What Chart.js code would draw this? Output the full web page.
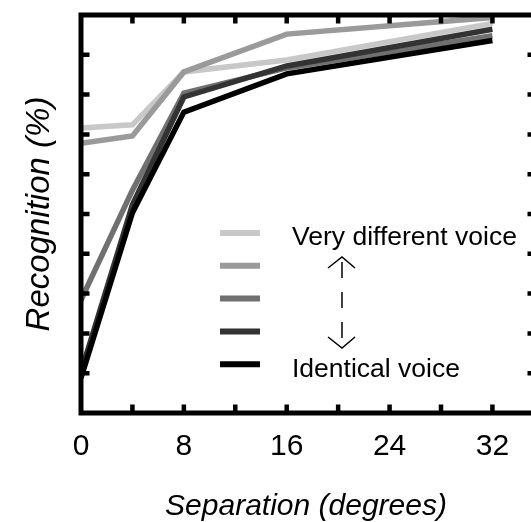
<!DOCTYPE html>
<html>
<head>
<meta charset="utf-8">
<script src="https://cdn.jsdelivr.net/npm/chart.js@4.4.1/dist/chart.umd.min.js"></script>
<style>
  html, body { margin: 0; padding: 0; background: #fff; }
  #wrap { width: 531px; height: 522px; }
</style>
</head>
<body>
<div id="wrap"><canvas id="chart" width="531" height="522"></canvas></div>
<script>
// separation (degrees)
var separation = [0, 4, 8, 16, 32];
// recognition (%) for each voice condition, very different -> identical
var voiceVeryDifferent = [71.6, 72.4, 85.7, 88.7, 97.9];
var voiceStep2 = [67.8, 69.6, 85.7, 95.2, 99.4];
var voiceStep3 = [28.4, 56.0, 80.4, 86.7, 94.8];
var voiceStep4 = [10.3, 52.3, 79.4, 87.2, 96.4];
var voiceIdentical = [8.8, 50.3, 75.6, 85.2, 93.6];
var xTickLabels = [0, 8, 16, 24, 32];
var legendTop = 'Very different voice';
var legendBottom = 'Identical voice';

var series = [voiceVeryDifferent, voiceStep2, voiceStep3, voiceStep4, voiceIdentical];
var colors = ['#c8c8c8', '#9a9a9a', '#707070', '#333333', '#000000'];

var datasets = series.map(function (vals, i) {
  return {
    data: vals.map(function (v, j) { return { x: separation[j], y: v }; }),
    borderColor: colors[i],
    borderWidth: 5.5,
    pointRadius: 0,
    tension: 0,
    fill: false,
    order: series.length - 1 - i
  };
});

var sans = '"Liberation Sans", Arial, sans-serif';

// box, inward tick marks and the legend
var framePlugin = {
  id: 'frame',
  afterDatasetsDraw: function (chart) {
    var ctx = chart.ctx, a = chart.chartArea;
    var xs = chart.scales.x, ys = chart.scales.y;
    var L = a.left, T = a.top, B = a.bottom, R = a.right + 5;
    ctx.save();
    ctx.strokeStyle = '#000';
    ctx.lineWidth = 5;
    ctx.strokeRect(L, T, R - L, B - T);

    ctx.lineWidth = 4.5;
    ctx.beginPath();
    xs.ticks.forEach(function (t) {
      if (t.value <= xs.min || t.value >= xs.max) return;
      var px = xs.getPixelForValue(t.value);
      ctx.moveTo(px, T); ctx.lineTo(px, T + 8.5);
      ctx.moveTo(px, B); ctx.lineTo(px, B - 8.5);
    });
    ys.ticks.forEach(function (t) {
      if (t.value <= ys.min || t.value >= ys.max) return;
      var py = ys.getPixelForValue(t.value);
      ctx.moveTo(L, py); ctx.lineTo(L + 8.5, py);
      ctx.moveTo(R, py); ctx.lineTo(R - 8.5, py);
    });
    ctx.stroke();

    // legend swatches
    var lx = L + 139, ly = 233, step = 32.8;
    ctx.lineWidth = 6;
    colors.forEach(function (c, i) {
      ctx.strokeStyle = c;
      ctx.beginPath();
      ctx.moveTo(lx, ly + i * step);
      ctx.lineTo(lx + 40, ly + i * step);
      ctx.stroke();
    });

    ctx.fillStyle = '#000';
    ctx.font = '26.5px ' + sans;
    ctx.textBaseline = 'alphabetic';
    ctx.textAlign = 'left';
    ctx.fillText(legendTop, L + 211, 245);
    ctx.fillText(legendBottom, L + 211, 377);

    // dashed double arrow
    var ax = L + 261;
    ctx.strokeStyle = '#000';
    ctx.lineWidth = 1.5;
    ctx.setLineDash([16, 14]);
    ctx.beginPath();
    ctx.moveTo(ax, 262); ctx.lineTo(ax, 342);
    ctx.stroke();
    ctx.setLineDash([]);
    ctx.beginPath();
    ctx.moveTo(ax - 14, 268); ctx.lineTo(ax, 257); ctx.lineTo(ax + 13, 268);
    ctx.moveTo(ax - 14, 337); ctx.lineTo(ax, 348); ctx.lineTo(ax + 13, 337);
    ctx.stroke();
    ctx.restore();
  }
};

new Chart(document.getElementById('chart'), {
  type: 'line',
  data: { datasets: datasets },
  options: {
    responsive: false,
    animation: false,
    layout: { padding: { top: 15, right: 0, left: 0, bottom: 0 } },
    plugins: { legend: { display: false }, tooltip: { enabled: false } },
    scales: {
      x: {
        type: 'linear', min: 0, max: 35,
        grid: { display: false },
        border: { display: false },
        afterFit: function (s) { s.height = 109; s.paddingRight = 0; },
        ticks: {
          stepSize: 4, autoSkip: false, maxRotation: 0, padding: 8,
          includeBounds: false,
          color: '#000', font: { family: sans, size: 30 },
          callback: function (v) { return xTickLabels.indexOf(v) >= 0 ? String(v) : ''; }
        },
        title: {
          display: true, text: 'Separation (degrees)', color: '#000',
          font: { family: sans, size: 30, style: 'italic' },
          padding: { top: 0, bottom: -3 }
        }
      },
      y: {
        min: 0, max: 100,
        grid: { display: false },
        border: { display: false },
        afterFit: function (s) { s.width = 81; },
        ticks: { display: false, stepSize: 10 },
        title: {
          display: true, text: 'Recognition (%)', color: '#000',
          font: { family: sans, size: 33, style: 'italic' },
          padding: { top: 20, bottom: 0 }
        }
      }
    }
  },
  plugins: [framePlugin]
});
</script>
</body>
</html>
